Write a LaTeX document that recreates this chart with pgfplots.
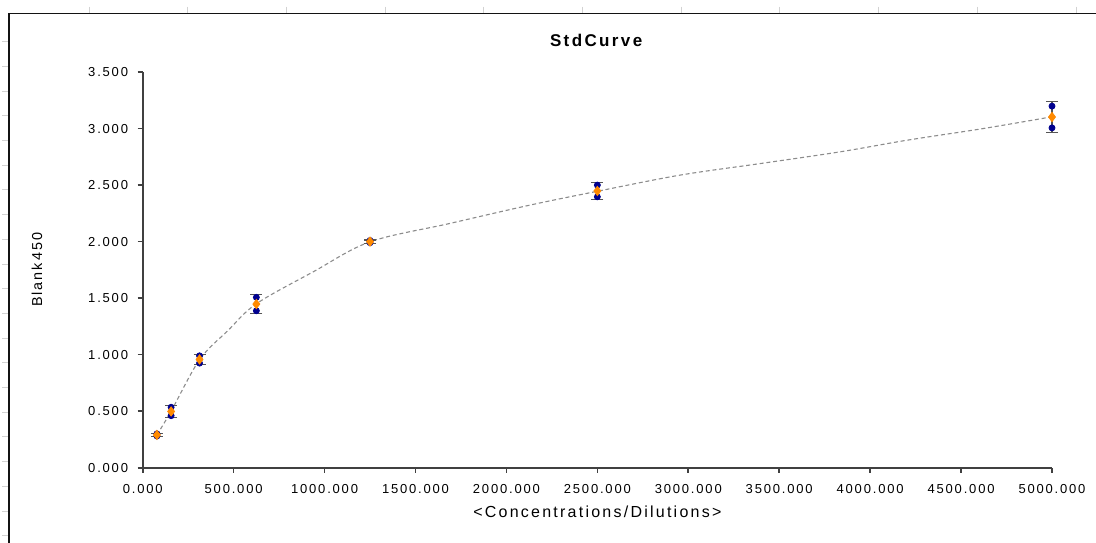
\documentclass[border=0pt]{standalone}
\usepackage{fontspec}
\setmainfont{Liberation Sans}[LetterSpace=14]
\usepackage{pgfplots}
\usepackage{pgfplotstable}
\pgfplotsset{compat=1.18}
\definecolor{repblue}{HTML}{00008F}
\definecolor{meanorange}{HTML}{FF8A00}
\definecolor{axisgray}{HTML}{404040}
\definecolor{errgray}{HTML}{555555}
\definecolor{fitgray}{HTML}{8C8C8C}
\pgfplotstableread{
x y
78.125 0.300
78.125 0.280
156.25 0.535
156.25 0.460
312.5 0.990
312.5 0.925
625 1.507
625 1.388
1250 2.010
1250 1.990
2500 2.500
2500 2.396
5000 3.198
5000 3.006
}\reps
\pgfplotstableread{
x mean sd
78.125 0.290 0.014
156.25 0.4975 0.053
312.5 0.9575 0.046
625 1.4475 0.084
1250 2.000 0.014
2500 2.448 0.074
5000 3.102 0.136
}\means
\begin{document}
\begin{tikzpicture}
\path[use as bounding box] (0,0) rectangle (548pt,-271pt);
\foreach \k in {0,...,10} \draw[gray!35, line width=0.5pt] ({44.5pt+49.35pt*\k},-3.3pt) -- ({44.5pt+49.35pt*\k},-6.6pt);
\foreach \k in {0,...,20} \draw[gray!35, line width=0.5pt] (1pt,{-20.85pt-12.35pt*\k}) -- (4.3pt,{-20.85pt-12.35pt*\k});
\draw[gray!15!black, line width=0.75pt] (4.5pt,-272pt) -- (4.5pt,-6.65pt) -- (549pt,-6.65pt);
\begin{axis}[
  at={(71.35pt,-233.85pt)}, anchor=south west,
  scale only axis, width=454.65pt, height=197.85pt,
  xmin=0, xmax=5000, ymin=0, ymax=3.5,
  clip=false,
  axis lines=left,
  axis line style={-, draw=axisgray, line width=1pt},
  xtick={0,500,...,5000}, ytick={0,0.5,...,3.5},
  tick align=outside, major tick length=2.6pt,
  tick style={draw=axisgray, line width=0.8pt},
  /pgf/number format/assume math mode=true,
  xticklabel style={/pgf/number format/fixed, /pgf/number format/fixed zerofill, /pgf/number format/precision=3, /pgf/number format/1000 sep={}, font=\fontsize{6.5}{7}\selectfont, text=black, yshift=-2.3pt},
  yticklabel style={/pgf/number format/fixed, /pgf/number format/fixed zerofill, /pgf/number format/precision=3, font=\fontsize{6.5}{7}\selectfont, text=black, xshift=-1.2pt},
  scaled x ticks=false, scaled y ticks=false,
  title={\textbf{StdCurve}},
  title style={at={(axis description cs:0.5,1.0809)}, anchor=center, yshift=-6pt, font=\fontsize{8.5}{10}\selectfont},
  xlabel={<Concentrations/Dilutions>},
  xlabel style={at={(axis description cs:0.5,-0.1122)}, anchor=center, font=\fontsize{8}{9}\selectfont},
  ylabel={Blank450},
  ylabel style={at={(axis description cs:-0.1162,0.5)}, anchor=center, font=\fontsize{7.2}{8}\selectfont},
]
\addplot[fitgray, line width=0.55pt, dash pattern=on 2pt off 1.4pt, smooth, tension=0.55] coordinates {
(78.125,0.290) (156.25,0.500) (312.5,0.955) (470,1.215) (625,1.450) (938,1.733) (1250,1.998) (1690,2.161) (2130,2.323) (2500,2.445) (2955,2.588) (3395,2.690) (3835,2.794) (4204,2.897) (4622,3.000) (5000,3.104)
};
\addplot[draw=none, mark=none, error bars/.cd, y dir=both, y explicit,
  error mark=-,
  error bar style={draw=errgray, line width=0.6pt, solid},
  error mark options={rotate=90, draw=errgray, line width=0.6pt, mark size=3pt}]
  table[x=x, y=mean, y error=sd] {\means};
\addplot[only marks, mark=*, mark size=1.5pt, mark options={draw=repblue, fill=repblue}] table[x=x, y=y] {\reps};
\addplot[only marks, mark=diamond*, mark size=2.3pt, mark options={draw=meanorange, fill=meanorange}] table[x=x, y=mean] {\means};
\end{axis}
\end{tikzpicture}
\end{document}
